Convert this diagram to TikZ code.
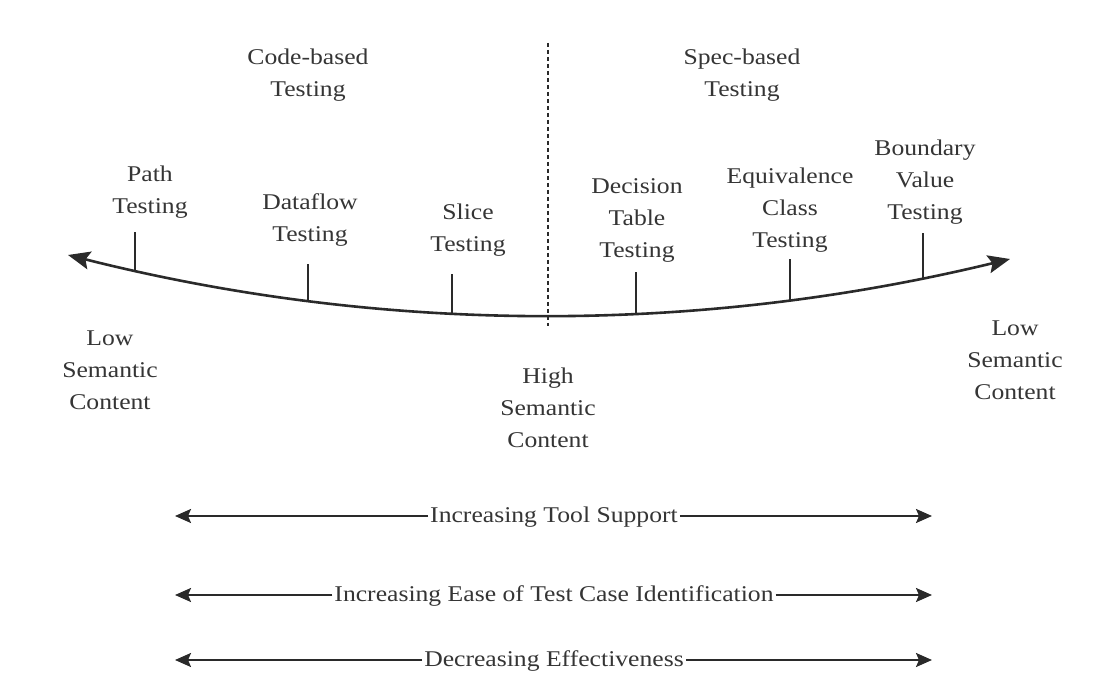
\documentclass[tikz,border=0pt]{standalone}
\usepackage{fontspec}
\setmainfont[FakeStretch=1.14]{Liberation Serif}
\usetikzlibrary{arrows.meta,calc}
\definecolor{ink}{HTML}{2a2a2a}
\definecolor{txt}{HTML}{353535}
\tikzset{
  lbl/.style={align=center,text=txt,inner sep=0pt,font={\fontsize{22.5}{32}\selectfont}},
  barlbl/.style={text=txt,inner sep=2pt,font={\fontsize{22.5}{26}\selectfont}},
  barline/.style={draw=ink,line width=2pt,-{Stealth[length=16pt,width=14pt,inset=3pt]}},
  tick/.style={draw=ink,line width=1.8pt},
  bigtip/.style={Stealth[length=22pt,width=18pt,inset=4pt]},
}
\begin{document}
\begin{tikzpicture}[x=1pt,y=-1pt]
\useasboundingbox[fill=white] (0,0) rectangle (1110,684);
% dashed divider
\draw[ink,line width=1.5pt,dash pattern=on 4pt off 3pt] (548,43) coordinate (dtop) -- (548,326) coordinate (dbot);
% curve
\draw[ink,line width=2.6pt,{Stealth[length=22pt,width=18pt,inset=4pt]}-{Stealth[length=22pt,width=18pt,inset=4pt]}]
  (68,255) coordinate (cl) .. controls (382,334) and (696,335) .. (1010,259) coordinate (cr)
  coordinate[pos=0.0711] (t1)
  coordinate[pos=0.2548] (t2)
  coordinate[pos=0.4076] (t3)
  coordinate[pos=0.6030] (t4)
  coordinate[pos=0.7665] (t5)
  coordinate[pos=0.9076] (t6);
\draw[tick] (t1) -- (t1 |- 0,232);
\draw[tick] (t2) -- (t2 |- 0,264);
\draw[tick] (t3) -- (t3 |- 0,274);
\draw[tick] (t4) -- (t4 |- 0,272);
\draw[tick] (t5) -- (t5 |- 0,259);
\draw[tick] (t6) -- (t6 |- 0,233);
% labels
\node[lbl] (code) at (308,75) {Code-based\\Testing};
\node[lbl] (spec) at (742,75) {Spec-based\\Testing};
\node[lbl] (path) at (150,192) {Path\\Testing};
\node[lbl] (dataflow) at (310,220) {Dataflow\\Testing};
\node[lbl] (slice) at (468,230) {Slice\\Testing};
\node[lbl] (decision) at (637,220) {Decision\\Table\\Testing};
\node[lbl] (equiv) at (790,210) {Equivalence\\Class\\Testing};
\node[lbl] (boundary) at (925,182) {Boundary\\Value\\Testing};
\node[lbl] (lowl) at (110,370) {Low\\Semantic\\Content};
\node[lbl] (high) at (548,408) {High\\Semantic\\Content};
\node[lbl] (lowr) at (1015,360) {Low\\Semantic\\Content};
% bottom bars
\node[barlbl] (tool) at (554,517) {Increasing Tool Support};
\coordinate (toolL) at (175,516); \coordinate (toolR) at (932,516);
\draw[barline] (tool.west |- toolL) -- (toolL);
\draw[barline] (tool.east |- toolR) -- (toolR);
\node[barlbl] (ease) at (554,596) {Increasing Ease of Test Case Identification};
\coordinate (easeL) at (175,595); \coordinate (easeR) at (932,595);
\draw[barline] (ease.west |- easeL) -- (easeL);
\draw[barline] (ease.east |- easeR) -- (easeR);
\node[barlbl] (eff) at (554,661) {Decreasing Effectiveness};
\coordinate (effL) at (175,660); \coordinate (effR) at (932,660);
\draw[barline] (eff.west |- effL) -- (effL);
\draw[barline] (eff.east |- effR) -- (effR);
\end{tikzpicture}
\end{document}
